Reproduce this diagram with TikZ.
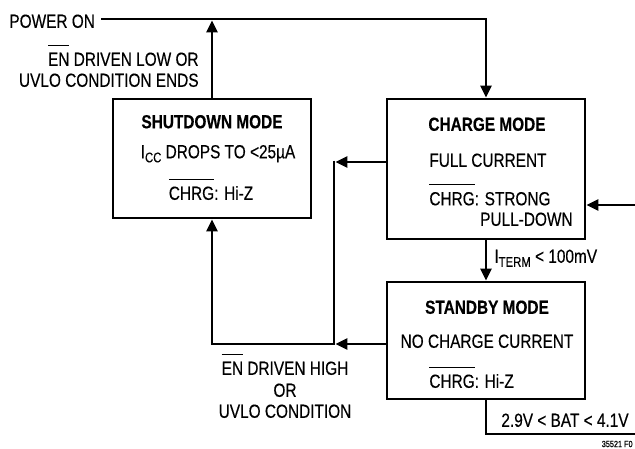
\documentclass[tikz,border=0pt]{standalone}
\usepackage{fontspec}
\setmainfont{Liberation Sans}[FakeStretch=0.81,FakeBold=0.35]
\usetikzlibrary{arrows.meta}
\newsavebox\ovlbox
\newcommand\ovl[1]{\sbox\ovlbox{#1}\rlap{\rule[20pt]{\wd\ovlbox}{1.1pt}}\usebox\ovlbox}
\newcommand\sbs[1]{\raisebox{-4pt}{\fontsize{14}{14}\selectfont #1}}
\begin{document}
\begin{tikzpicture}[x=1pt,y=-1pt,line width=2.8pt,
  txt/.style={inner sep=0pt,text height=13.6pt,text depth=0pt,font=\fontsize{19}{23}\selectfont},
  ttl/.style={txt,font=\fontsize{19}{23}\selectfont\bfseries},
  box/.style={draw,line width=2.8pt,inner sep=0pt},
  arr/.style={-{Triangle[length=12pt,width=11pt]}}]
\useasboundingbox (0,0) rectangle (635,448);
% boxes
\node[box,minimum width=198pt,minimum height=119pt] (shut) at (212,158.5) {};
\node[box,minimum width=198pt,minimum height=140pt] (charge) at (486,169) {};
\node[box,minimum width=198pt,minimum height=117pt] (standby) at (486,340.5) {};
% box texts
\node[ttl] (shutt) at (212,121.5) {SHUTDOWN MODE};
\node[txt] (shuti) at (218,151.5) {I\sbs{CC} DROPS TO <25µA};
\node[txt] (shutc) at (211,193) {\ovl{CHRG}: Hi-Z};
\node[ttl] (charget) at (487,124) {CHARGE MODE};
\node[txt,anchor=west] (chargef) at (428,160) {FULL CURRENT};
\node[txt,anchor=west] (chargec) at (428,198.5) {\ovl{CHRG}: STRONG};
\node[txt,anchor=east] (chargep) at (574,219) {PULL-DOWN};
\node[ttl] (standt) at (487,307) {STANDBY MODE};
\node[txt] (standn) at (487,341) {NO CHARGE CURRENT};
\node[txt,anchor=west] (standc) at (428,381) {\ovl{CHRG}: Hi-Z};
% outside labels
\node[txt,anchor=west] (power) at (8,21) {POWER ON};
\node[txt,anchor=east] (enlow) at (200,59) {\ovl{EN} DRIVEN LOW OR};
\node[txt,anchor=east] (uvloend) at (200,80) {UVLO CONDITION ENDS};
\node[txt] (enhigh) at (285,368) {\ovl{EN} DRIVEN HIGH};
\node[txt] (enor) at (285,390) {OR};
\node[txt] (uvlo) at (285,411) {UVLO CONDITION};
\node[txt,anchor=west] (iterm) at (493,256) {I\sbs{TERM} < 100mV};
\node[txt,anchor=west] (bat) at (500,420) {2.9V < BAT < 4.1V};
\node[inner sep=0pt,anchor=east,font=\fontsize{9}{9}\selectfont] (fig) at (634,444) {35521 F0};
% connectors
\coordinate (pwstart) at (101,19);
\coordinate (pw) at (486,19);
\coordinate (pwtap) at (212,20.4);
\draw[arr] (pwstart) -- (pw) -- (charge.north);
\draw[arr] (shut.north) -- (pwtap);
\coordinate (j1) at (334,162);
\coordinate (j2) at (334,344);
\draw[arr] (charge.west |- j1) -- ([xshift=1.4pt]j1);
\draw[arr] (standby.west |- j2) -- ([xshift=1.4pt]j2);
\draw[arr] ([yshift=1.4pt]j1) -- (j2) -| (shut.south);
\draw[arr] (charge.south) -- (standby.north);
\coordinate (rin) at (640,205);
\draw[arr] (rin) -- (charge.east |- rin);
\coordinate (bout) at (640,434);
\draw (standby.south) |- (bout);
\end{tikzpicture}
\end{document}
